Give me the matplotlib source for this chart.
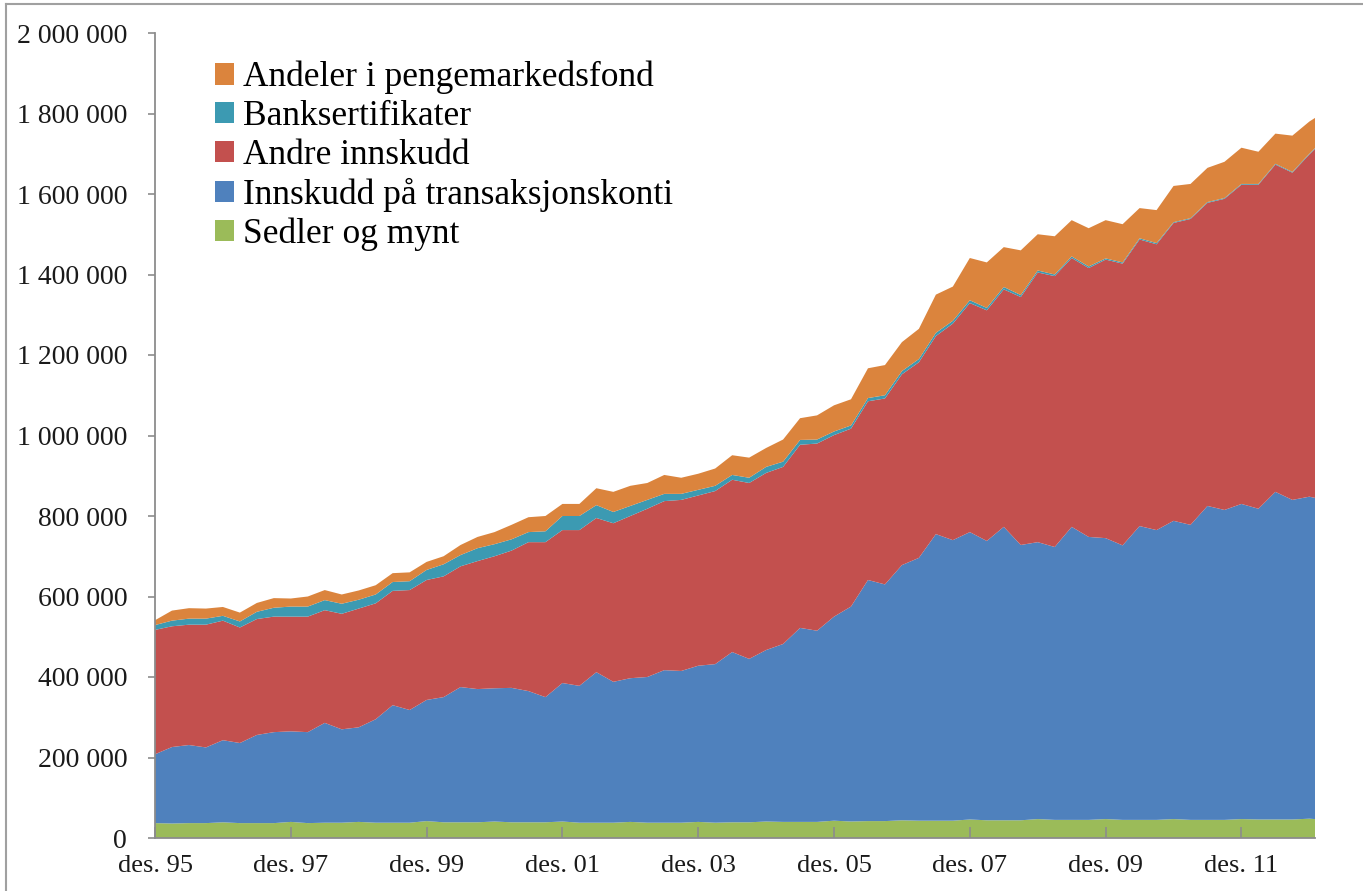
import matplotlib
matplotlib.use("Agg")
import matplotlib.pyplot as plt
from matplotlib.ticker import FuncFormatter, FixedLocator
from matplotlib.lines import Line2D

# month index (0 = des. 95), sampled quarterly
months = list(range(0, 205, 3)) + [205]

# values in thousand NOK
sedler = [37,36,37,37,39,37,37,37, 40,37,38,38,40,38,38,38, 42,39,39,39,41,39,39,39,
          41,38,38,38,40,38,38,38, 40,38,39,39,41,40,40,40, 43,41,42,42,44,43,43,43,
          46,44,44,44,47,45,45,45, 47,45,45,45,47,45,45,45, 47,46,46,46,48, 47]
transaksjon = [171,190,194,188,204,199,219,226, 225,226,248,232,235,257,292,280,
               301,311,336,331,331,334,326,311, 344,340,374,350,357,362,379,377,
               388,394,423,406,426,442,482,475, 507,534,599,588,634,653,712,697,
               714,694,729,684,688,678,728,703, 698,682,730,720,741,733,780,770,
               783,772,814,794,800, 798]
andre = [309,300,299,305,297,287,288,287, 285,287,280,287,295,288,284,298,
         298,300,300,318,328,341,370,385, 380,387,383,394,403,418,420,425,
         423,430,428,437,440,440,455,465, 451,442,444,462,474,486,492,538,
         569,573,590,616,670,673,668,668, 692,700,712,710,740,760,753,773,
         793,805,813,813,850, 867]
banksert = [12,14,15,15,12,15,18,22, 25,25,25,25,22,22,22,22,
            25,30,28,32,30,28,25,27, 35,35,32,28,25,22,18,15,
            14,13,12,13,15,13,12,10, 9,8,8,8,8,8,8,7,
            7,6,6,5,5,4,4,4, 3,3,3,3,2,2,2,2,
            2,2,2,2,2, 2]
pengemarked = [12,25,26,25,22,22,22,24, 20,25,25,23,23,23,22,22,
               20,20,25,28,30,36,37,38, 30,30,42,50,50,42,47,40,
               40,43,49,50,47,55,54,60, 65,65,74,75,72,75,95,85,
               105,113,99,111,90,95,90,95, 95,95,75,82,90,85,85,90,
               90,80,75,90,80, 75]

labels = ["Sedler og mynt", "Innskudd på transaksjonskonti", "Andre innskudd",
          "Banksertifikater", "Andeler i pengemarkedsfond"]
colors = ["#9BBB59", "#4F81BD", "#C3504E", "#3C9AB2", "#DB843D"]

tick_pos = [0, 24, 48, 72, 96, 120, 144, 168, 192]
tick_labels = ["des. 95", "des. 97", "des. 99", "des. 01", "des. 03",
               "des. 05", "des. 07", "des. 09", "des. 11"]

plt.rcParams['font.family'] = ['Liberation Serif', 'DejaVu Serif']

W, H = 1363, 891
fig = plt.figure(figsize=(W/100, H/100), dpi=100)
ax = fig.add_axes([155/W, (H-838)/H, (1315-155)/W, (838-33)/H])

series = [[v*1000 for v in s] for s in (sedler, transaksjon, andre, banksert, pengemarked)]
ax.stackplot(months, *series, colors=colors, labels=labels, linewidth=0)

ax.set_xlim(0, 205)
ax.set_ylim(0, 2_000_000)
ax.yaxis.set_major_locator(FixedLocator(range(0, 2_000_001, 200_000)))
ax.yaxis.set_major_formatter(FuncFormatter(lambda v, p: f"{int(v):,}".replace(",", " ")))
ax.set_xticks(tick_pos)
ax.set_xticklabels(tick_labels)

grey = "#8C8C8C"
for s in ("top", "right"):
    ax.spines[s].set_visible(False)
for s in ("left", "bottom"):
    ax.spines[s].set_color(grey)
    ax.spines[s].set_linewidth(1.3)
ax.tick_params(axis="x", direction="in", length=8, width=1.2, color=grey,
               labelsize=19, pad=12, labelcolor="#1a1a1a")
ax.tick_params(axis="y", direction="out", length=5, width=1.2, color=grey,
               labelsize=20, pad=15, labelcolor="#1a1a1a")

handles, labs = ax.get_legend_handles_labels()
ax.legend(handles[::-1], labs[::-1], loc="upper left",
          bbox_to_anchor=(215/W, (H-61)/H), bbox_transform=fig.transFigure,
          frameon=False, fontsize=25.5, handlelength=0.54, handleheight=0.54,
          handletextpad=0.25, labelspacing=0.16, borderpad=0, borderaxespad=0)

# frame lines of the original screenshot (top and left edges)
fig.add_artist(Line2D([6/W, 6/W], [0, (H-4)/H], transform=fig.transFigure,
                      color="#A0A0A0", linewidth=1.5))
fig.add_artist(Line2D([6/W, 1], [(H-4)/H, (H-4)/H], transform=fig.transFigure,
                      color="#A0A0A0", linewidth=1.5))

fig.savefig("out.png", dpi=100)
